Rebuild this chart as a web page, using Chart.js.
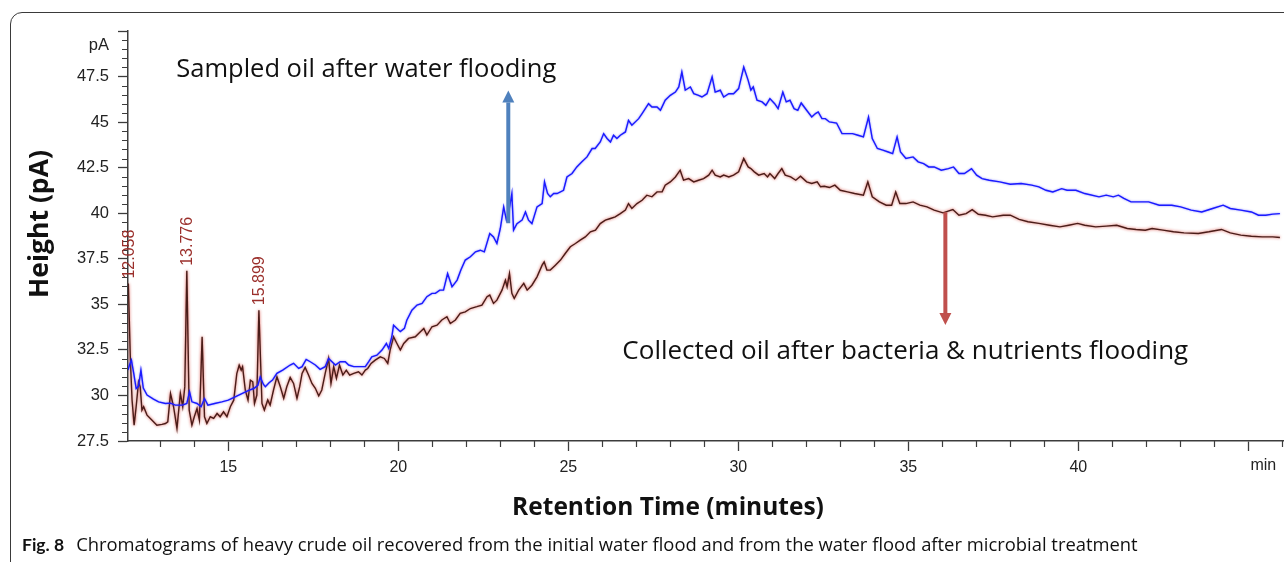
<!DOCTYPE html>
<html>
<head>
<meta charset="utf-8">
<script src="https://cdn.jsdelivr.net/npm/chart.js@4.4.1/dist/chart.umd.min.js"></script>
<style>
  html, body { margin: 0; padding: 0; background: #ffffff; }
  #wrap { position: relative; width: 1284px; height: 562px; overflow: hidden; background: #fff; }
  #c { position: absolute; left: 0; top: 0; }
  #frame { position: absolute; left: 10px; top: 12px; width: 1320px; height: 600px;
           border: 1px solid #3a3a3a; border-radius: 12px; box-sizing: border-box; pointer-events: none; }
  #caption { position: absolute; left: 22px; top: 531px; font-family: "Open Sans", Lato, sans-serif;
             font-size: 18.4px; color: #111; white-space: nowrap; }
  #caption b { font-family: Lato, "Open Sans", sans-serif; font-size: 17.5px; font-weight: 700; margin-right: 12px; }
</style>
</head>
<body>
<div id="wrap">
  <canvas id="c" width="1284" height="562"></canvas>
  <div id="frame"></div>
  <div id="caption"><b>Fig. 8</b>Chromatograms of heavy crude oil recovered from the initial water flood and from the water flood after microbial treatment</div>
</div>
<script>
// ---------------- DATA ----------------
const waterTime = [12.05,12.1,12.15,12.22,12.29,12.36,12.43,12.5,12.61,12.8,12.95,13.15,13.3,13.44,13.65,13.78,13.86,13.93,14.08,14.2,14.3,14.4,14.6,14.81,15.0,15.2,15.4,15.6,15.75,15.87,15.94,16.03,16.09,16.2,16.3,16.43,16.6,16.82,16.92,17.07,17.17,17.29,17.41,17.56,17.7,17.85,17.95,18.05,18.15,18.29,18.44,18.54,18.69,18.88,19.03,19.13,19.22,19.37,19.52,19.65,19.72,19.81,19.86,19.96,20.06,20.18,20.25,20.4,20.55,20.7,20.84,20.99,21.09,21.22,21.33,21.45,21.58,21.73,21.84,21.97,22.12,22.27,22.41,22.53,22.69,22.8,22.9,23.0,23.1,23.18,23.25,23.34,23.39,23.49,23.64,23.74,23.83,23.93,24.08,24.23,24.3,24.39,24.47,24.57,24.67,24.86,24.96,25.11,25.25,25.4,25.55,25.7,25.79,25.94,26.04,26.14,26.24,26.33,26.43,26.53,26.68,26.77,26.87,27.07,27.17,27.36,27.46,27.61,27.71,27.85,28.0,28.15,28.25,28.34,28.44,28.59,28.69,28.83,28.93,29.08,29.23,29.32,29.47,29.57,29.72,29.86,30.01,30.16,30.29,30.37,30.44,30.55,30.7,30.81,30.93,31.07,31.17,31.31,31.41,31.52,31.64,31.75,31.85,32.01,32.16,32.27,32.35,32.46,32.56,32.68,32.89,33.05,33.21,33.36,33.52,33.68,33.83,33.94,34.09,34.25,34.41,34.54,34.67,34.77,34.93,35.14,35.29,35.45,35.6,35.76,35.97,36.18,36.33,36.49,36.65,36.86,37.01,37.17,37.38,37.69,38.0,38.32,38.63,38.84,39.05,39.25,39.51,39.67,39.93,40.19,40.61,40.82,41.03,41.18,41.34,41.55,41.86,42.07,42.38,42.75,43.01,43.32,43.63,43.95,44.26,44.47,44.78,45.09,45.3,45.51,45.72,45.93];
const waterHeight = [31.4,31.7,31.94,31.2,30.38,30.5,31.39,30.4,30.02,29.8,29.65,29.56,29.58,29.47,29.47,29.56,30.2,29.65,29.56,29.38,29.83,29.47,29.56,29.65,29.74,29.92,30.1,30.28,30.38,30.56,31.02,30.62,30.48,30.7,30.84,31.21,31.39,31.67,31.76,31.48,31.58,31.98,31.85,31.67,31.43,31.58,32.03,31.85,31.67,31.85,31.85,31.67,31.58,31.58,31.58,31.85,32.12,32.21,32.49,32.85,32.58,33.22,33.86,33.68,33.5,33.68,34.13,34.68,34.96,35.05,35.42,35.6,35.6,35.78,35.78,36.69,35.96,36.33,36.88,37.43,37.61,37.88,37.97,37.88,38.89,38.7,38.34,39.16,40.35,39.62,40.07,41.08,39.07,39.43,39.62,40.07,39.62,39.43,40.35,40.53,41.72,41.08,40.9,41.08,41.08,41.26,41.99,42.18,42.54,42.82,43.09,43.55,43.55,43.91,44.37,44.1,43.91,44.28,44.1,44.28,44.46,45.1,44.83,45.19,45.47,46.01,45.83,45.83,45.65,46.2,46.47,46.65,46.93,47.75,46.75,46.93,46.56,46.47,46.38,46.56,47.48,46.65,46.75,46.38,46.56,46.56,46.84,48.02,47.29,46.75,46.93,46.2,46.11,45.92,46.29,46.01,45.74,46.65,46.11,46.2,45.74,45.65,46.05,45.65,45.28,45.47,45.56,45.19,45.19,45.01,44.95,44.37,44.37,44.37,44.28,44.19,45.28,44.1,43.55,43.46,43.36,43.27,44.19,43.36,43.0,43.09,42.82,42.72,42.54,42.54,42.36,42.45,42.54,42.18,42.18,42.45,42.09,41.9,41.81,41.72,41.59,41.63,41.54,41.45,41.26,41.17,41.35,41.26,41.26,41.08,40.9,40.99,40.9,40.99,40.81,40.62,40.62,40.62,40.44,40.44,40.35,40.17,40.07,40.26,40.44,40.26,40.17,40.07,39.89,39.89,39.95,39.98];

const microbeTime = [12.05,12.06,12.12,12.17,12.23,12.29,12.36,12.41,12.46,12.51,12.61,12.75,12.9,13.05,13.15,13.22,13.3,13.39,13.49,13.59,13.66,13.72,13.78,13.85,13.93,14.0,14.08,14.15,14.23,14.3,14.37,14.47,14.57,14.67,14.76,14.86,14.96,15.06,15.16,15.25,15.32,15.38,15.42,15.5,15.58,15.65,15.72,15.77,15.84,15.9,15.99,16.06,16.16,16.23,16.33,16.43,16.53,16.63,16.72,16.82,16.92,17.02,17.1,17.17,17.26,17.36,17.46,17.56,17.66,17.75,17.85,17.95,18.02,18.1,18.18,18.27,18.37,18.47,18.57,18.69,18.83,18.93,19.03,19.1,19.2,19.32,19.47,19.59,19.69,19.76,19.86,19.96,20.06,20.16,20.3,20.5,20.65,20.75,20.84,20.99,21.14,21.28,21.43,21.53,21.68,21.82,21.97,22.12,22.31,22.46,22.61,22.69,22.8,22.9,23.05,23.15,23.2,23.27,23.34,23.41,23.54,23.69,23.79,23.93,24.08,24.23,24.29,24.37,24.47,24.62,24.77,24.91,25.06,25.21,25.35,25.5,25.65,25.8,25.94,26.09,26.24,26.38,26.53,26.68,26.77,26.87,27.02,27.17,27.31,27.46,27.61,27.76,27.85,28.0,28.15,28.29,28.39,28.54,28.69,28.83,28.98,29.13,29.23,29.32,29.47,29.57,29.72,29.86,30.01,30.16,30.29,30.37,30.47,30.6,30.76,30.86,30.93,31.07,31.17,31.28,31.38,31.54,31.69,31.83,32.01,32.16,32.32,32.42,32.53,32.68,32.84,33.0,33.21,33.42,33.68,33.81,33.94,34.15,34.35,34.51,34.63,34.75,34.93,35.14,35.34,35.55,35.76,36.02,36.31,36.49,36.7,36.88,37.06,37.27,37.48,37.79,38.0,38.26,38.52,38.84,39.15,39.46,39.72,39.98,40.19,40.51,40.82,41.13,41.44,41.7,41.97,42.17,42.49,42.8,43.11,43.53,43.84,44.21,44.47,44.78,45.09,45.41,45.72,45.93];
const microbeHeight = [35.6,36.14,31.94,29.74,28.37,29.38,30.75,30.47,29.19,29.38,28.92,28.65,28.37,28.41,28.46,28.55,30.1,29.38,28.19,30.11,29.38,30.47,36.84,29.19,28.37,28.83,29.28,28.65,33.22,28.83,28.46,28.83,28.74,29.01,28.83,29.1,28.83,29.38,29.74,31.2,31.66,31.39,31.57,30.29,29.74,30.84,30.75,29.56,30.02,34.68,29.56,29.2,29.75,29.47,30.3,31.03,30.48,29.84,30.48,30.99,30.66,29.84,30.48,31.21,31.54,31.12,30.66,30.39,29.97,30.3,31.21,32.03,30.66,31.58,30.94,31.67,31.12,31.39,31.12,31.21,31.3,31.12,31.39,31.48,31.76,31.94,32.12,32.03,31.76,32.49,33.22,32.85,32.49,32.85,33.13,33.22,33.5,33.68,33.31,33.77,33.86,34.14,34.32,33.95,34.14,34.5,34.59,34.77,34.87,34.96,35.42,35.51,35.05,35.23,35.78,36.33,35.96,36.69,35.6,35.32,35.78,36.15,35.78,36.05,36.51,37.15,37.33,36.88,36.88,37.15,37.43,37.79,38.16,38.34,38.52,38.7,38.98,39.07,39.43,39.62,39.71,39.8,39.98,40.17,40.53,40.26,40.53,40.71,40.99,40.9,41.17,41.17,41.54,41.72,41.99,42.36,41.81,41.9,41.72,41.81,41.9,42.09,42.36,42.09,41.99,42.09,41.99,42.09,42.27,43.0,42.54,42.45,42.27,42.09,42.18,41.99,42.18,41.9,42.18,42.45,42.09,41.99,41.81,42.03,41.72,41.63,41.72,41.45,41.48,41.41,41.54,41.26,41.17,41.08,40.99,41.72,40.9,40.62,40.44,40.44,41.17,40.53,40.53,40.62,40.44,40.35,40.17,40.02,40.2,39.89,39.98,40.2,39.94,39.89,39.8,39.89,39.89,39.66,39.53,39.44,39.34,39.25,39.34,39.44,39.34,39.25,39.29,39.34,39.16,39.11,39.07,39.16,39.07,38.98,38.92,38.89,38.98,39.11,38.92,38.8,38.74,38.7,38.7,38.67];

const peakTimes = [12.058, 13.776, 15.899];
const peakHeights = [36.14, 36.84, 34.68];

const xTickValues = [15, 20, 25, 30, 35, 40, 45];
const xTickLabels = ['15', '20', '25', '30', '35', '40', 'min'];
const yTickValues = [27.5, 30, 32.5, 35, 37.5, 40, 42.5, 45, 47.5, 50];
const yTickLabels = ['27.5', '30', '32.5', '35', '37.5', '40', '42.5', '45', '47.5', ''];
const yUnitLabel = 'pA';

const xTitle = 'Retention Time (minutes)';
const yTitle = 'Height (pA)';
const waterLabel = 'Sampled oil after water flooding';
const microbeLabel = 'Collected oil after bacteria & nutrients flooding';
// annotation anchors in data units (time, height)
const waterLabelAt = [13.47, 47.86];
const microbeLabelAt = [26.59, 32.38];
const waterArrow = [23.235, 39.45, 46.74];   // time, from, to
const microbeArrow = [36.09, 40.05, 33.86];

// ---------------- CHART ----------------
const axisColor = '#3c3c3c';
const xTickFont = { family: 'Liberation Sans, Arial, sans-serif', size: 16 };
const yTickFont = { family: 'Liberation Sans, Arial, sans-serif', size: 16.5 };
const toXY = (ts, vs) => ts.map((t, i) => ({ x: t, y: vs[i] }));
const isUnit = (s) => /[a-z]/i.test(s);   // unit label drawn shifted, like the original

const glowPlugin = {
  id: 'glow',
  beforeDatasetDraw(chart, args) {
    const ds = chart.data.datasets[args.index];
    chart.ctx.save();
    chart.ctx.shadowColor = ds.glowColor;
    chart.ctx.shadowBlur = ds.glowBlur;
  },
  afterDatasetDraw(chart) { chart.ctx.restore(); }
};

function arrow(ctx, x, y0, y1, color, w, headW, headL) {
  const dir = y1 < y0 ? -1 : 1;
  ctx.save();
  ctx.strokeStyle = color; ctx.fillStyle = color; ctx.lineWidth = w;
  ctx.beginPath(); ctx.moveTo(x, y0); ctx.lineTo(x, y1 - dir * headL); ctx.stroke();
  ctx.beginPath();
  ctx.moveTo(x, y1);
  ctx.lineTo(x - headW / 2, y1 - dir * headL);
  ctx.lineTo(x + headW / 2, y1 - dir * headL);
  ctx.closePath(); ctx.fill();
  ctx.restore();
}

const decor = {
  id: 'decor',
  afterDraw(chart) {
    const { ctx, chartArea: a } = chart;
    const xs = chart.scales.x, ys = chart.scales.y;
    ctx.save();
    // minor ticks
    ctx.strokeStyle = axisColor; ctx.lineWidth = 1.2;
    ctx.beginPath();
    for (let t = Math.ceil(xs.min); t <= xs.max; t++) {
      if (t % 5 === 0) continue;
      const px = Math.round(xs.getPixelForValue(t)) + 0.5;
      ctx.moveTo(px, a.bottom); ctx.lineTo(px, a.bottom + 6);
    }
    for (let k = Math.ceil(ys.min * 2); k <= Math.floor(ys.max * 2); k++) {
      const v = k / 2;
      if (Math.abs(v / 2.5 - Math.round(v / 2.5)) < 1e-6) continue;
      const py = Math.round(ys.getPixelForValue(v)) + 0.5;
      ctx.moveTo(a.left, py); ctx.lineTo(a.left - 6, py);
    }
    ctx.stroke();

    // unit labels
    ctx.fillStyle = '#222';
    ctx.font = '16.5px "Liberation Sans", Arial, sans-serif';
    ctx.textAlign = 'right'; ctx.textBaseline = 'middle';
    ctx.fillText(yUnitLabel, a.left - 19, ys.getPixelForValue(50) + 14);
    ctx.font = '16px "Liberation Sans", Arial, sans-serif';
    ctx.textAlign = 'center'; ctx.textBaseline = 'top';
    xTickValues.forEach((v, i) => {
      if (isUnit(xTickLabels[i])) ctx.fillText(xTickLabels[i], xs.getPixelForValue(v) + 15, a.bottom + 17);
    });

    // axis titles
    ctx.fillStyle = '#111';
    ctx.font = 'bold 24.5px "Open Sans", Lato, sans-serif';
    ctx.textAlign = 'center'; ctx.textBaseline = 'middle';
    ctx.fillText(xTitle, 668, 508);
    ctx.save();
    ctx.translate(40, 224); ctx.rotate(-Math.PI / 2);
    ctx.font = 'bold 26.5px "Open Sans", Lato, sans-serif';
    ctx.fillText(yTitle, 0, 0);
    ctx.restore();

    // peak labels
    ctx.fillStyle = '#9b2f2b';
    ctx.font = '16px "Liberation Sans", Arial, sans-serif';
    peakTimes.forEach((t, i) => {
      const px = xs.getPixelForValue(t), py = ys.getPixelForValue(peakHeights[i]);
      ctx.save();
      ctx.translate(px + 1, py - 5); ctx.rotate(-Math.PI / 2);
      ctx.textAlign = 'left'; ctx.textBaseline = 'middle';
      ctx.fillText(t.toFixed(3), 0, 0);
      ctx.restore();
    });

    // arrows
    arrow(ctx, xs.getPixelForValue(waterArrow[0]), ys.getPixelForValue(waterArrow[1]),
          ys.getPixelForValue(waterArrow[2]), '#4f81bd', 4, 12, 12);
    arrow(ctx, xs.getPixelForValue(microbeArrow[0]), ys.getPixelForValue(microbeArrow[1]),
          ys.getPixelForValue(microbeArrow[2]), '#c0504d', 4, 12, 12);

    // annotation texts
    ctx.fillStyle = '#111';
    ctx.textAlign = 'left'; ctx.textBaseline = 'middle';
    ctx.font = '25.5px "Open Sans", Lato, sans-serif';
    ctx.fillText(waterLabel, xs.getPixelForValue(waterLabelAt[0]), ys.getPixelForValue(waterLabelAt[1]));
    ctx.font = '26px "Open Sans", Lato, sans-serif';
    ctx.fillText(microbeLabel, xs.getPixelForValue(microbeLabelAt[0]), ys.getPixelForValue(microbeLabelAt[1]));
    ctx.restore();
  }
};

new Chart(document.getElementById('c'), {
  type: 'line',
  data: {
    datasets: [
      {
        label: 'Water flooding', data: toXY(waterTime, waterHeight),
        borderColor: '#1a1aff', borderWidth: 1.4, pointRadius: 0, tension: 0,
        glowColor: 'rgba(70,70,255,0.7)', glowBlur: 2, order: 0
      },
      {
        label: 'Bacteria & nutrients flooding', data: toXY(microbeTime, microbeHeight),
        borderColor: '#4a1d19', borderWidth: 1.4, pointRadius: 0, tension: 0,
        glowColor: 'rgba(215,70,60,0.95)', glowBlur: 3, order: 1
      }
    ]
  },
  options: {
    responsive: false, animation: false, devicePixelRatio: 1,
    layout: { padding: { left: 28, right: 0, top: 31, bottom: 81 } },
    plugins: { legend: { display: false }, tooltip: { enabled: false }, title: { display: false } },
    scales: {
      x: {
        type: 'linear', min: 12.05, max: 46.05,
        afterFit: s => { s.height = 40; },
        afterBuildTicks: s => { s.ticks = xTickValues.map(v => ({ value: v })); },
        ticks: {
          callback: (v) => { const l = xTickLabels[xTickValues.indexOf(v)]; return isUnit(l) ? '' : l; },
          font: xTickFont, color: '#222', padding: 7, maxRotation: 0, autoSkip: false
        },
        grid: { drawOnChartArea: false, tickLength: 10, tickColor: axisColor, tickWidth: 1.3 },
        border: { display: true, color: axisColor, width: 1.5 }
      },
      y: {
        type: 'linear', min: 27.5, max: 50,
        afterFit: s => { s.width = 100; },
        afterBuildTicks: s => { s.ticks = yTickValues.map(v => ({ value: v })); },
        ticks: { callback: (v) => yTickLabels[yTickValues.indexOf(v)], font: yTickFont, color: '#222', padding: 9, autoSkip: false },
        grid: { drawOnChartArea: false, tickLength: 10, tickColor: axisColor, tickWidth: 1.3 },
        border: { display: true, color: axisColor, width: 1.5 }
      }
    }
  },
  plugins: [glowPlugin, decor]
});
</script>
</body>
</html>
